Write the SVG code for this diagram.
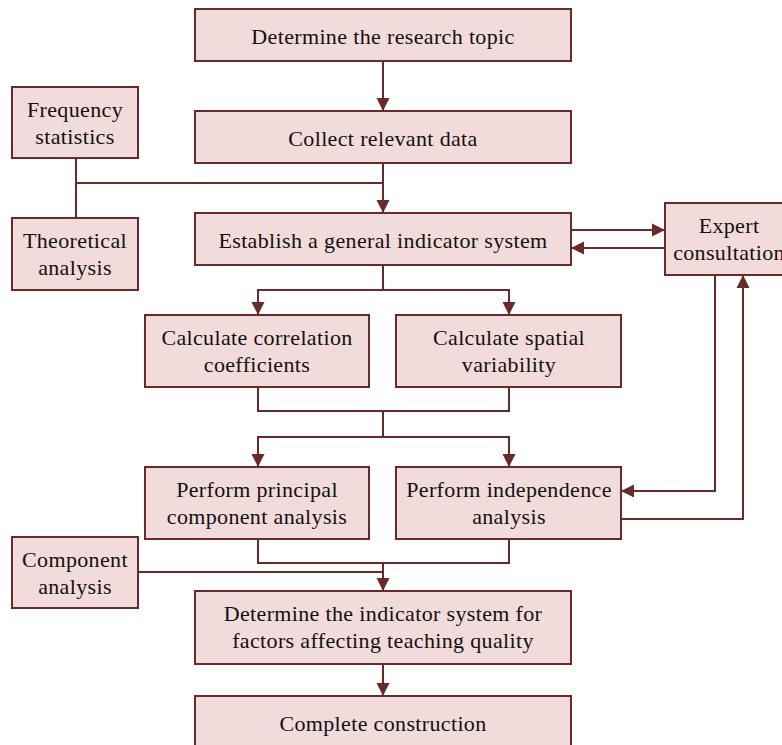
<svg xmlns="http://www.w3.org/2000/svg" width="782" height="745" viewBox="0 0 782 745">
<defs>
<style>
.box{fill:#f2dcdb;stroke:#6b2a2a;stroke-width:2}
.t{font-family:"Liberation Serif","Times New Roman",serif;font-size:22px;letter-spacing:0.35px;fill:#111;text-anchor:middle}
.c{fill:none;stroke:#6b2a2a;stroke-width:2}
.a{marker-end:url(#ah)}
</style>
<marker id="ah" markerUnits="userSpaceOnUse" markerWidth="14" markerHeight="14" refX="13" refY="7" orient="auto">
<path d="M0,0.5 L13,7 L0,13.5 z" fill="#6b2a2a"/>
</marker>
</defs>
<rect width="782" height="745" fill="#fff"/>
<g id="connectors">
<path class="c a" d="M383,61 V111"/>
<path class="c a" d="M383,163 V213"/>
<path class="c" d="M76,158 V218"/>
<path class="c" d="M76,183 H383"/>
<path class="c a" d="M571,230 H665"/>
<path class="c a" d="M665,248 H571"/>
<path class="c" d="M383,265 V290"/>
<path class="c a" d="M383,290 H258 V315"/>
<path class="c a" d="M383,290 H509 V315"/>
<path class="c" d="M258,387 V411 H509 V387"/>
<path class="c" d="M383,411 V437"/>
<path class="c a" d="M383,437 H258 V467"/>
<path class="c a" d="M383,437 H509 V467"/>
<path class="c a" d="M715,275 V491 H621"/>
<path class="c a" d="M621,519 H743 V275"/>
<path class="c" d="M258,539 V563 H509 V539"/>
<path class="c a" d="M383,563 V591"/>
<path class="c" d="M138,572 H383"/>
<path class="c a" d="M383,664 V696"/>
</g>
<g id="n1"><rect class="box" x="195" y="9" width="376" height="52"/><text class="t" x="383" y="44">Determine the research topic</text></g>
<g id="n2"><rect class="box" x="195" y="111" width="376" height="52"/><text class="t" x="383" y="146">Collect relevant data</text></g>
<g id="n3"><rect class="box" x="195" y="213" width="376" height="52"/><text class="t" x="383" y="248">Establish a general indicator system</text></g>
<g id="freq"><rect class="box" x="12" y="87" width="126" height="71"/><text class="t" x="75" y="117">Frequency</text><text class="t" x="75" y="144">statistics</text></g>
<g id="theo"><rect class="box" x="12" y="218" width="126" height="72"/><text class="t" x="75" y="248">Theoretical</text><text class="t" x="75" y="275">analysis</text></g>
<g id="expert"><rect class="box" x="665" y="203" width="130" height="72"/><text class="t" x="729" y="233">Expert</text><text class="t" x="729" y="260">consultation</text></g>
<g id="corr"><rect class="box" x="145" y="315" width="224" height="72"/><text class="t" x="257" y="345">Calculate correlation</text><text class="t" x="257" y="372">coefficients</text></g>
<g id="spatial"><rect class="box" x="396" y="315" width="225" height="72"/><text class="t" x="509" y="345">Calculate spatial</text><text class="t" x="509" y="372">variability</text></g>
<g id="pca"><rect class="box" x="145" y="467" width="224" height="72"/><text class="t" x="257" y="497">Perform principal</text><text class="t" x="257" y="524">component analysis</text></g>
<g id="indep"><rect class="box" x="396" y="467" width="225" height="72"/><text class="t" x="509" y="497">Perform independence</text><text class="t" x="509" y="524">analysis</text></g>
<g id="comp"><rect class="box" x="12" y="537" width="126" height="71"/><text class="t" x="75" y="567">Component</text><text class="t" x="75" y="594">analysis</text></g>
<g id="final"><rect class="box" x="195" y="591" width="376" height="73"/><text class="t" x="383" y="621">Determine the indicator system for</text><text class="t" x="383" y="648">factors affecting teaching quality</text></g>
<g id="done"><rect class="box" x="195" y="696" width="376" height="60"/><text class="t" x="383" y="731">Complete construction</text></g>
</svg>
